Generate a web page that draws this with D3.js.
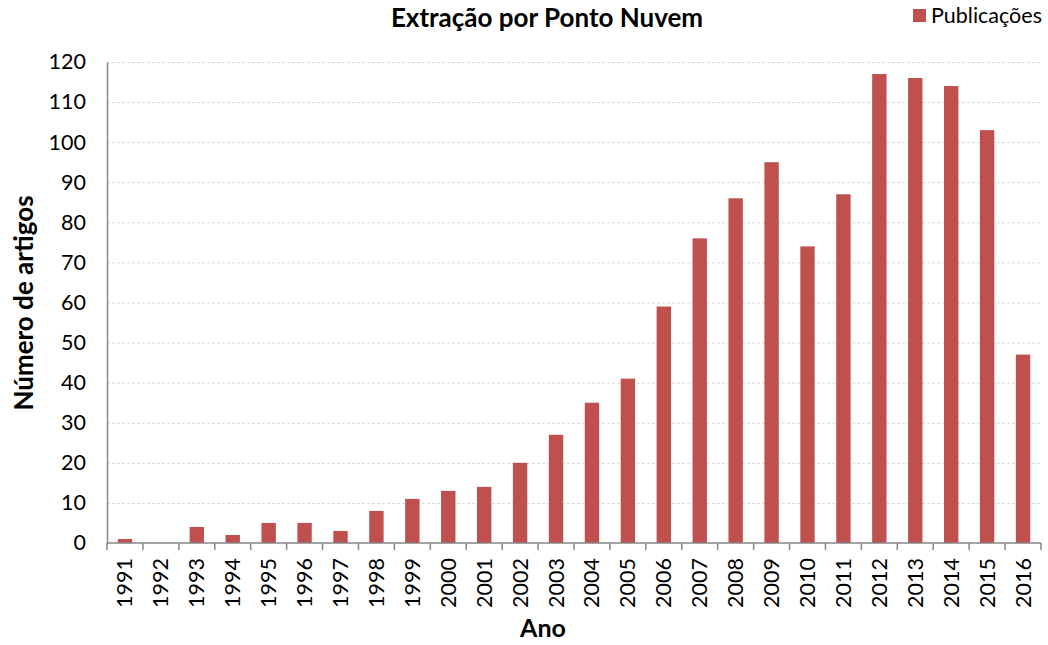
<!DOCTYPE html>
<html>
<head>
<meta charset="utf-8">
<script src="https://cdn.jsdelivr.net/npm/d3@7"></script>
<style>
  body { margin: 0; background: #fff; }
  text { font-family: Lato, "Open Sans", sans-serif; fill: #000; }
</style>
</head>
<body>
<svg id="chart" width="1048" height="645"></svg>
<script>
// data
const years = ['1991','1992','1993','1994','1995','1996','1997','1998','1999','2000','2001','2002','2003',
  '2004','2005','2006','2007','2008','2009','2010','2011','2012','2013','2014','2015','2016'];
const publicacoes = [1, 0, 4, 2, 5, 5, 3, 8, 11, 13, 14, 20, 27, 35, 41, 59, 76, 86, 95, 74, 87, 117, 116, 114, 103, 47];
const yTicks = [0, 10, 20, 30, 40, 50, 60, 70, 80, 90, 100, 110, 120];

const svg = d3.select('#chart');
const plotLeft = 107, plotRight = 1041, plotTop = 62, plotBottom = 543;

const x = d3.scaleBand()
  .domain(years)
  .range([plotLeft, plotRight])
  .paddingInner(0.6)
  .paddingOuter(0.3);

const y = d3.scaleLinear()
  .domain([0, 120])
  .range([plotBottom, plotTop]);

// gridlines
svg.append('g')
  .selectAll('line')
  .data(yTicks.filter(d => d > 0))
  .enter().append('line')
  .attr('x1', plotLeft)
  .attr('x2', plotRight)
  .attr('y1', d => y(d) + 0.5)
  .attr('y2', d => y(d) + 0.5)
  .style('stroke', '#d9d9d9')
  .style('stroke-dasharray', '3,2');

// bars
svg.append('g')
  .selectAll('rect')
  .data(years)
  .enter().append('rect')
  .attr('x', d => x(d))
  .attr('width', x.bandwidth())
  .attr('y', (d, i) => y(publicacoes[i]))
  .attr('height', (d, i) => plotBottom - y(publicacoes[i]))
  .style('fill', '#c0504d');

// y axis
const yAxis = svg.append('g')
  .attr('transform', `translate(${plotLeft},0)`)
  .call(d3.axisLeft(y).tickValues(yTicks).tickSize(0).tickPadding(21));
yAxis.select('.domain').style('stroke', '#868686').style('stroke-width', 1.5);
yAxis.selectAll('text').style('font-size', '21.5px').style('font-family', 'Lato, sans-serif');

// x axis: ticks at category boundaries
const edges = d3.range(years.length + 1).map(i => plotLeft + i * (plotRight - plotLeft) / years.length);
const xg = svg.append('g');
xg.append('line')
  .attr('x1', plotLeft).attr('x2', plotRight)
  .attr('y1', plotBottom).attr('y2', plotBottom)
  .style('stroke', '#868686').style('stroke-width', 1.5);
xg.selectAll('line.tick')
  .data(edges)
  .enter().append('line')
  .attr('class', 'tick')
  .attr('x1', d => d).attr('x2', d => d)
  .attr('y1', plotBottom).attr('y2', plotBottom + 7)
  .style('stroke', '#868686').style('stroke-width', 1.5);
xg.selectAll('text')
  .data(years)
  .enter().append('text')
  .attr('transform', d => `translate(${x(d) + x.bandwidth() / 2 + 7.5},${plotBottom + 15}) rotate(-90)`)
  .attr('text-anchor', 'end')
  .style('font-size', '21.5px')
  .text(d => d);

// titles
svg.append('text')
  .attr('x', 547).attr('y', 27)
  .attr('text-anchor', 'middle')
  .style('font-size', '26px').style('font-weight', 'bold')
  .text('Extração por Ponto Nuvem');

svg.append('text')
  .attr('x', 543).attr('y', 637)
  .attr('text-anchor', 'middle')
  .style('font-size', '25px').style('font-weight', 'bold')
  .text('Ano');

svg.append('text')
  .attr('transform', 'translate(33,303) rotate(-90)')
  .attr('text-anchor', 'middle')
  .style('font-size', '26px').style('font-weight', 'bold')
  .text('Número de artigos');

// legend
const legend = svg.append('g').attr('transform', 'translate(913,9)');
legend.append('rect')
  .attr('width', 13).attr('height', 13)
  .style('fill', '#c0504d');
legend.append('text')
  .attr('x', 18).attr('y', 14)
  .style('font-size', '21.5px')
  .text('Publicações');
</script>
</body>
</html>
